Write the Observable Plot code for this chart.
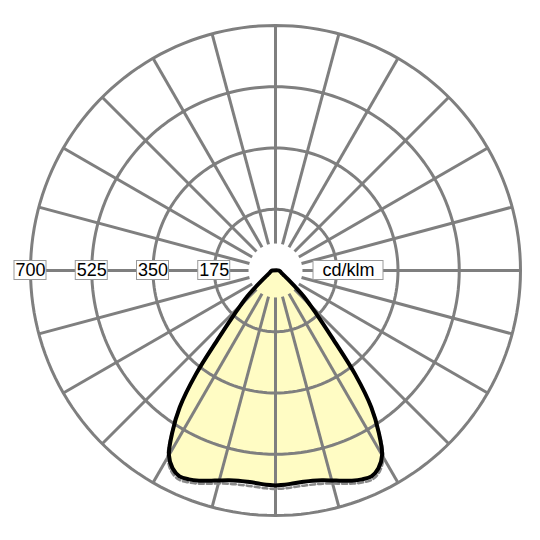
<!DOCTYPE html>
<html><head><meta charset="utf-8">
<script src="https://cdn.jsdelivr.net/npm/d3@7"></script>
<script src="https://cdn.jsdelivr.net/npm/@observablehq/plot@0.6"></script>
<style>body{margin:0;background:#fff}</style>
</head><body><div id="chart"></div>
<script>
// gamma angles (degrees from nadir)
const gammaAngles = [0,2.5,5,7.5,10,12.5,15,17.5,20,22.5,25,27.5,30,32.5,35,37.5,40,42.5,45,47.5,50,55,60,65,70,75,80,85,90];
// C0/C180 plane intensity (cd/klm) - solid
const intensityC0 = [614,613,610,609,610,614,621,630,639,646,649,637,609,549,477,374,256,187,141,109,77,43,29,21,17,15,13,11,10];
// C90/C270 plane intensity (cd/klm) - dashed
const intensityC90 = [624,623,621,620,621,624,630,639,648,655,658,646,616,553,479,374,256,187,141,109,77,43,29,21,17,15,13,11,10];
const ringValues = [175,350,525,700];
const ringLabels = ["175","350","525","700"];
const unitLabel = "cd/klm";

const rMax = 700, spokeStart = 77, spokeStep = 15;
const pxPerUnit = 245 / rMax;           // outer circle radius 245px
const cx = 275, cy = 270, W = 540, H = 540;
const rad = d => d * Math.PI / 180;

function curvePoints(vals) {
  const left = gammaAngles.map((g, i) => ({x: -vals[i] * Math.sin(rad(g)), y: -vals[i] * Math.cos(rad(g))})).reverse();
  const right = gammaAngles.map((g, i) => ({x: vals[i] * Math.sin(rad(g)), y: -vals[i] * Math.cos(rad(g))}));
  const pts = left.concat(right);
  pts.push(pts[0]);
  return pts;
}
const solid = curvePoints(intensityC0);
const dashed = curvePoints(intensityC90);

const ringPts = ringValues.flatMap(v => d3.range(0, 361, 2).map(a => ({ring: v, x: v * Math.sin(rad(a)), y: v * Math.cos(rad(a))})));
const spokes = d3.range(0, 360, spokeStep);

const grid = "#7f7f7f";
const font = "Liberation Sans, Arial, sans-serif";
const boxHalfW = 16 / pxPerUnit, boxHalfH = 9.5 / pxPerUnit;
const unitX1 = 38 / pxPerUnit, unitX2 = 108 / pxPerUnit;

const chart = Plot.plot({
  width: W, height: H, margin: 0,
  x: {domain: [-cx / pxPerUnit, (W - cx) / pxPerUnit], axis: null},
  y: {domain: [-(H - cy) / pxPerUnit, cy / pxPerUnit], axis: null},
  style: {background: "white", fontFamily: font},
  marks: [
    Plot.line(solid, {x: "x", y: "y", fill: "#fffcc4", stroke: "none", curve: "catmull-rom"}),
    Plot.line(ringPts, {x: "x", y: "y", z: "ring", stroke: grid, strokeWidth: 3}),
    Plot.link(spokes, {
      x1: a => spokeStart * Math.sin(rad(a)), y1: a => spokeStart * Math.cos(rad(a)),
      x2: a => rMax * Math.sin(rad(a)), y2: a => rMax * Math.cos(rad(a)),
      stroke: grid, strokeWidth: 3
    }),
    Plot.line(dashed, {x: "x", y: "y", stroke: "#8a8a8a", strokeWidth: 2.5, strokeDasharray: "5,3", curve: "catmull-rom"}),
    Plot.line(solid, {x: "x", y: "y", stroke: "black", strokeWidth: 4, strokeLinejoin: "round", curve: "catmull-rom"}),
    Plot.rect(ringValues, {x1: v => -v - boxHalfW, x2: v => -v + boxHalfW, y1: -boxHalfH, y2: boxHalfH, fill: "white", stroke: "#9a9a9a", strokeWidth: 1}),
    Plot.text(ringValues, {x: v => -v, y: 0, text: (d, i) => ringLabels[i], fontSize: 18, fill: "black", fontFamily: font}),
    Plot.rect([unitLabel], {x1: unitX1, x2: unitX2, y1: -boxHalfH, y2: boxHalfH, fill: "white", stroke: "#9a9a9a", strokeWidth: 1}),
    Plot.text([unitLabel], {x: (unitX1 + unitX2) / 2, y: 0, text: d => d, fontSize: 18, fill: "black", fontFamily: font})
  ]
});
document.getElementById("chart").appendChild(chart);
</script>
</body></html>
